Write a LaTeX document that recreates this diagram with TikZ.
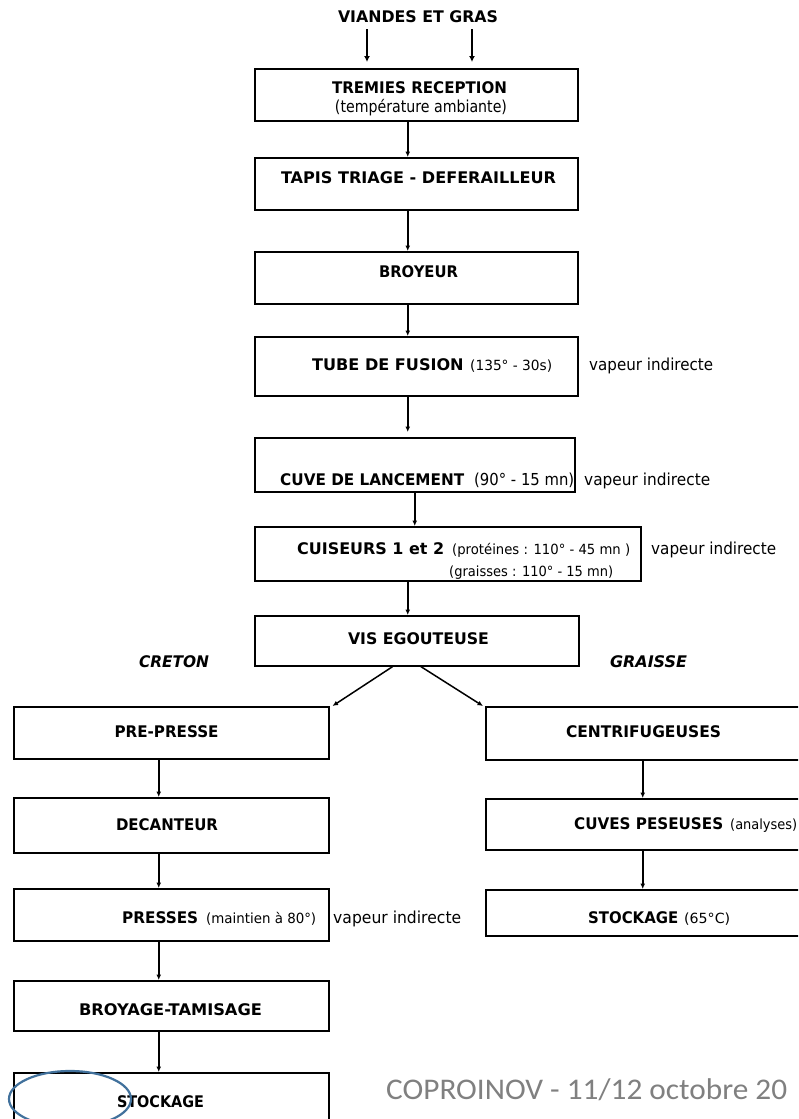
\documentclass[tikz,border=0pt]{standalone}
\usepackage{fontspec}
\setmainfont{DejaVu Sans}
\newfontfamily\calib{Carlito}
\usetikzlibrary{arrows.meta}
\newcommand\fw[2]{\resizebox{#1pt}{\height}{#2}}
\newcommand\bfz{\fontsize{16}{18}\selectfont\bfseries}
\newcommand\rgz{\fontsize{16.5}{18}\selectfont}
\newcommand\smz{\fontsize{14}{16}\selectfont}
\definecolor{ellblue}{RGB}{65,113,156}
\definecolor{footgray}{RGB}{128,128,128}
\begin{document}
\begin{tikzpicture}[x=1pt,y=-1pt,
  box/.style={draw=black, line width=1.5pt, rectangle, inner sep=0pt, anchor=north west},
  lbl/.style={inner sep=0pt, anchor=base west},
  lblc/.style={inner sep=0pt, anchor=base},
  arr/.style={line width=1.5pt, -{Latex[length=5.5pt,width=5pt]}},
  bigarr/.style={line width=2.4pt, -{Latex[length=6pt,width=6pt]}}]
\useasboundingbox (0,0) rectangle (798,1119);
\clip (0,0) rectangle (798,1119);
\fill[white] (0,0) rectangle (798,1119);

% boxes
\node[box, minimum width=323pt, minimum height=52pt] (tremies) at (254,68) {};
\node[box, minimum width=323pt, minimum height=52pt] (tapis) at (254,157) {};
\node[box, minimum width=323pt, minimum height=52pt] (broyeur) at (254,251) {};
\node[box, minimum width=323pt, minimum height=59pt] (tube) at (254,336) {};
\node[box, minimum width=320pt, minimum height=54pt] (cuve) at (254,437) {};
\node[box, minimum width=386pt, minimum height=54pt] (cuiseurs) at (254,526) {};
\node[box, minimum width=324pt, minimum height=50pt] (vis) at (254,615) {};
\node[box, minimum width=315pt, minimum height=52pt] (prepresse) at (13,706) {};
\node[box, minimum width=340pt, minimum height=53pt] (centri) at (485,706) {};
\node[box, minimum width=315pt, minimum height=55pt] (decanteur) at (13,797) {};
\node[box, minimum width=340pt, minimum height=51pt] (cuves) at (485,798) {};
\node[box, minimum width=315pt, minimum height=52pt] (presses) at (13,888) {};
\node[box, minimum width=340pt, minimum height=46pt] (stock65) at (485,889) {};
\node[box, minimum width=315pt, minimum height=50pt] (broyage) at (13,980) {};
\node[box, minimum width=315pt, minimum height=70pt] (stockage) at (13,1072) {};

% texts
\node[lblc] (title) at (418,22) {\fw{160}{\bfz VIANDES ET GRAS}};
\node[lblc] (t1) at (419.5,93) {\fw{175}{\bfz TREMIES RECEPTION}};
\node[lblc] (t1b) at (421,112) {\fw{172}{\rgz (température ambiante)}};
\node[lblc] (t2) at (418.5,183) {\fw{275}{\bfz TAPIS TRIAGE - DEFERAILLEUR}};
\node[lblc] (t3) at (418.5,277) {\fw{79}{\bfz BROYEUR}};
\node[lbl] (t4) at (312,370) {\fw{151.5}{\bfz TUBE DE FUSION}\hspace{6.5pt}\fw{82}{\smz (135° - 30s)}};
\node[lbl] (v1) at (589,370) {\fw{124}{\rgz vapeur indirecte}};
\node[lbl] (t5) at (280,485) {\fw{184}{\bfz CUVE DE LANCEMENT}\hspace{10pt}\fw{100}{\rgz (90° - 15 mn)}};
\node[lbl] (v2) at (584,485) {\fw{126}{\rgz vapeur indirecte}};
\node[lbl] (t6) at (297,554) {\fw{147}{\bfz CUISEURS 1 et 2}\hspace{8pt}\fw{178}{\smz (protéines : 110° - 45 mn )}};
\node[lbl] (t6b) at (449,576) {\fw{164}{\smz (graisses : 110° - 15 mn)}};
\node[lbl] (v3) at (651,554) {\fw{125}{\rgz vapeur indirecte}};
\node[lblc] (t7) at (418.5,644) {\fw{141}{\bfz VIS EGOUTEUSE}};
\node[lblc] (creton) at (174,667) {\fw{70}{\bfz\itshape CRETON}};
\node[lblc] (graisse) at (648.5,667) {\fw{77}{\bfz\itshape GRAISSE}};
\node[lblc] (t8) at (166.5,737) {\fw{104}{\bfz PRE-PRESSE}};
\node[lblc] (t9) at (643.5,737) {\fw{155}{\bfz CENTRIFUGEUSES}};
\node[lblc] (t10) at (167,830) {\fw{102}{\bfz DECANTEUR}};
\node[lbl] (t11) at (574,829) {\fw{149}{\bfz CUVES PESEUSES}\hspace{7pt}\fw{67}{\smz (analyses)}};
\node[lbl] (t12) at (122,923) {\fw{76}{\bfz PRESSES}\hspace{8pt}\fw{110}{\smz (maintien à 80°)}};
\node[lbl] (v4) at (333,923) {\fw{128}{\rgz vapeur indirecte}};
\node[lbl] (t13) at (588,923) {\fw{90}{\bfz STOCKAGE}\hspace{6pt}\fw{46}{\smz (65°C)}};
\node[lblc] (t14) at (170.5,1015) {\fw{183}{\bfz BROYAGE-TAMISAGE}};
\node[lblc] (t15) at (160.5,1107) {\fw{87}{\bfz STOCKAGE}};
\node[lbl, text=footgray] (foot) at (386,1099) {\fw{401}{\calib\fontsize{30}{34}\selectfont COPROINOV - 11/12 octobre 20}};

% input arrows
\coordinate (in1) at (367,29);
\coordinate (in2) at (472,29);
\draw[bigarr, shorten >=6pt] (in1) -- (in1 |- tremies.north);
\draw[bigarr, shorten >=6pt] (in2) -- (in2 |- tremies.north);

% main column
\draw[arr] ([xshift=-8.5pt]tremies.south) -- ([xshift=-8.5pt]tremies.south |- tapis.north);
\draw[arr] ([xshift=-8.5pt]tapis.south) -- ([xshift=-8.5pt]tapis.south |- broyeur.north);
\draw[arr] ([xshift=-8.5pt]broyeur.south) -- ([xshift=-8.5pt]broyeur.south |- tube.north);
\draw[arr, shorten >=5pt] ([xshift=-8.5pt]tube.south) -- ([xshift=-8.5pt]tube.south |- cuve.north);
\draw[arr] (cuve.south) -- (cuve.south |- cuiseurs.north);
\draw[arr] ([xshift=-8.5pt]tube.south |- cuiseurs.south) -- ([xshift=-8.5pt]tube.south |- vis.north);

% split
\draw[arr] ([xshift=-24pt]vis.south) -- ([xshift=3pt]prepresse.north east);
\draw[arr] ([xshift=4pt]vis.south) -- ([xshift=-2pt]centri.north west);

% left column
\draw[arr] ([xshift=-12.5pt]prepresse.south) -- ([xshift=-12.5pt]prepresse.south |- decanteur.north);
\draw[arr] ([xshift=-12.5pt]decanteur.south) -- ([xshift=-12.5pt]decanteur.south |- presses.north);
\draw[arr] ([xshift=-12.5pt]presses.south) -- ([xshift=-12.5pt]presses.south |- broyage.north);
\draw[arr] ([xshift=-12.5pt]broyage.south) -- ([xshift=-12.5pt]broyage.south |- stockage.north);

% right column
\draw[arr] ([xshift=-13pt]centri.south) -- ([xshift=-13pt]centri.south |- cuves.north);
\draw[arr] ([xshift=-13pt]cuves.south) -- ([xshift=-13pt]cuves.south |- stock65.north);

% highlight ellipse
\draw[ellblue, line width=2.2pt] (70,1099) ellipse [x radius=61pt, y radius=28pt];
\end{tikzpicture}
\end{document}
